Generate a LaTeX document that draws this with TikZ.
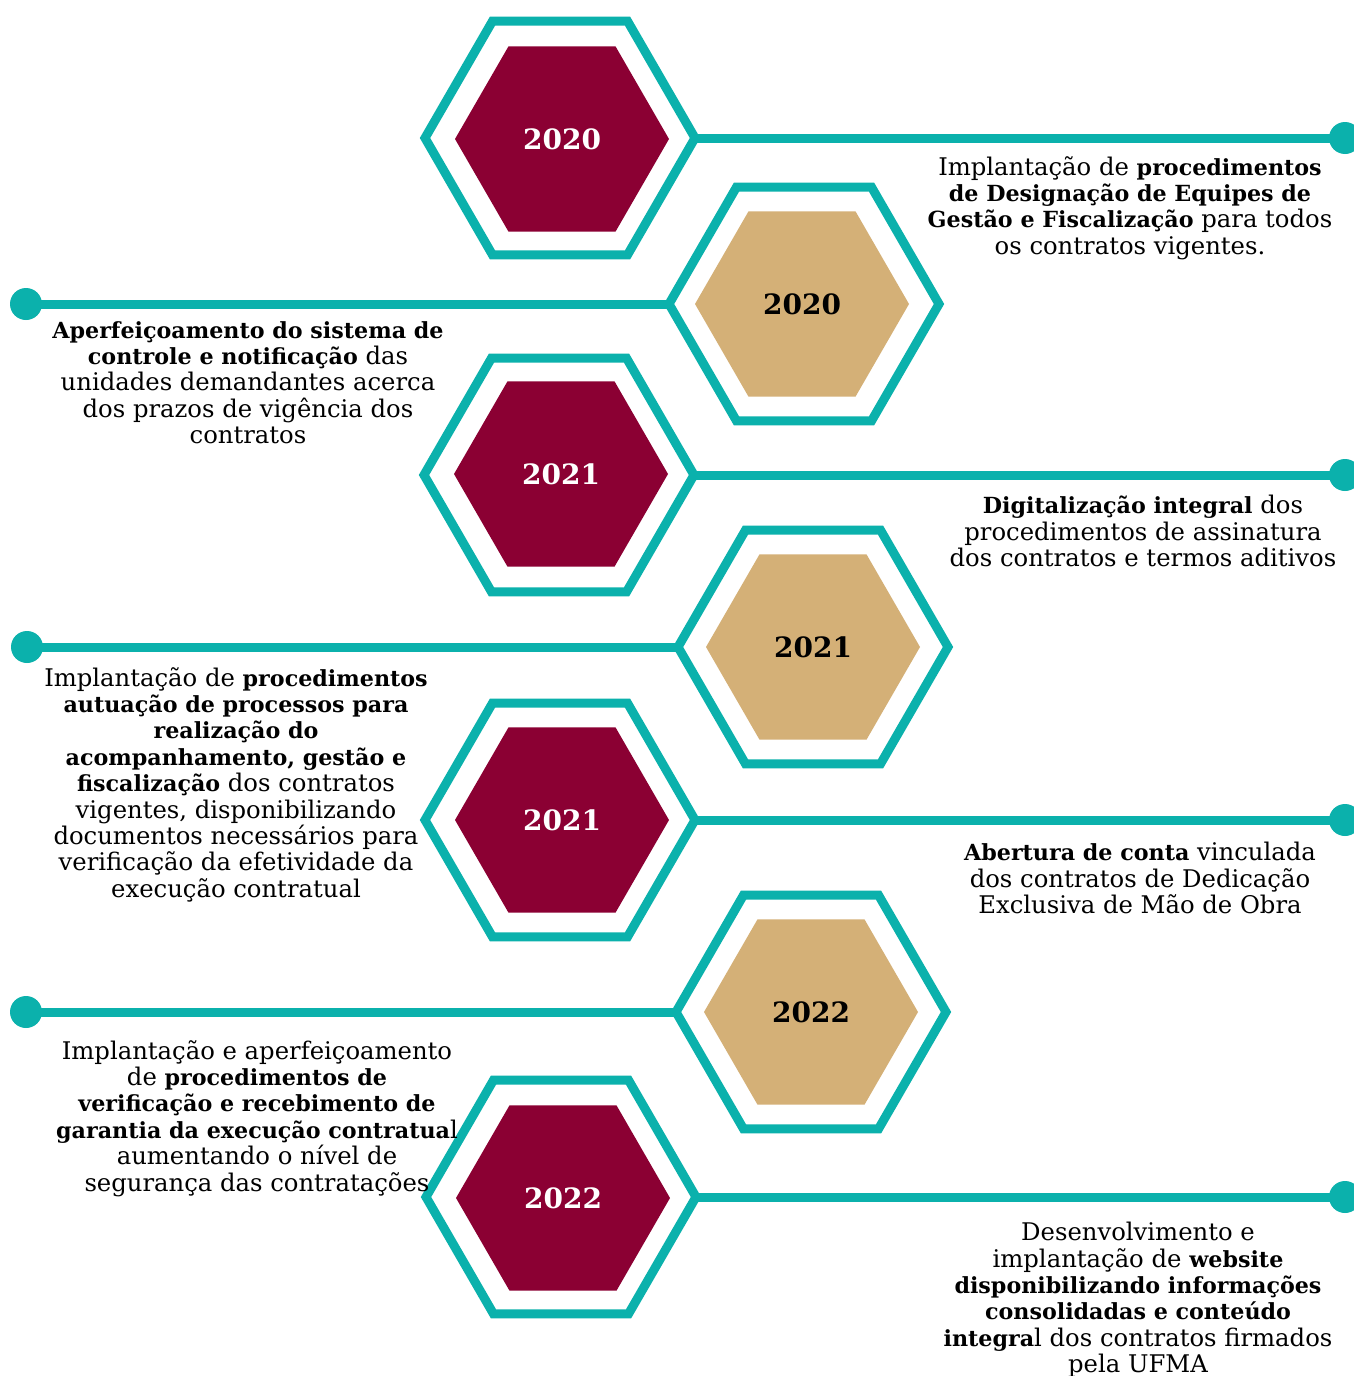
\documentclass[tikz,border=0pt]{standalone}
\usepackage{fontspec}
\setmainfont{DejaVu Serif}[BoldFeatures={Scale=0.914}]
\newfontfamily\yearfont{DejaVu Serif Bold}
\usetikzlibrary{shapes.geometric}
\definecolor{tealc}{HTML}{0BB1AC}
\definecolor{maroonc}{HTML}{8B0033}
\definecolor{goldc}{HTML}{D4B077}
\begin{document}
\begin{tikzpicture}[x=1pt,y=-1pt,
 outerhex/.style={regular polygon, regular polygon sides=6, draw=tealc, line width=9pt, minimum size=270pt, inner sep=0pt, outer sep=0pt},
 innerhex/.style={regular polygon, regular polygon sides=6, minimum size=214pt, inner sep=0pt, outer sep=0pt, font=\yearfont\fontsize{28}{30}\selectfont},
 maroonhex/.style={innerhex, fill=maroonc, text=white},
 goldhex/.style={innerhex, fill=goldc, text=black},
 conn/.style={draw=tealc, line width=9pt},
 dot/.style={circle, fill=tealc, minimum size=32pt, inner sep=0pt, outer sep=0pt},
 desc/.style={align=center, anchor=north, inner sep=0pt, font=\fontsize{24.3}{26.4}\selectfont}
]
\useasboundingbox (0,0) rectangle (1354,1376);
\clip (0,0) rectangle (1354,1376);
\fill[white] (0,0) rectangle (1354,1376);

% dots
\node[dot] (d1) at (1345,138) {};
\node[dot] (d2) at (26,304) {};
\node[dot] (d3) at (1345,475) {};
\node[dot] (d4) at (27,647) {};
\node[dot] (d5) at (1345,820) {};
\node[dot] (d6) at (26,1012) {};
\node[dot] (d7) at (1345,1197) {};

% hexagons
\node[outerhex] (h1o) at (560,138) {};
\node[maroonhex] (h1) at (562,139) {2020};
\node[outerhex] (h2o) at (804,304) {};
\node[goldhex] (h2) at (802,304) {2020};
\node[outerhex] (h3o) at (559,475) {};
\node[maroonhex] (h3) at (561,474) {2021};
\node[outerhex] (h4o) at (813,647) {};
\node[goldhex] (h4) at (813,647) {2021};
\node[outerhex] (h5o) at (560,820) {};
\node[maroonhex] (h5) at (562,820) {2021};
\node[outerhex] (h6o) at (811,1012) {};
\node[goldhex] (h6) at (811,1012) {2022};
\node[outerhex] (h7o) at (561,1197) {};
\node[maroonhex] (h7) at (563,1198) {2022};

% connectors
\draw[conn] (h1o.east) -- (d1.center);
\draw[conn] (d2.center) -- (h2o.west);
\draw[conn] (h3o.east) -- (d3.center);
\draw[conn] (d4.center) -- (h4o.west);
\draw[conn] (h5o.east) -- (d5.center);
\draw[conn] (d6.center) -- (h6o.west);
\draw[conn] (h7o.east) -- (d7.center);

% descriptions
\node[desc] (t1) at (1130,156) {Implantação de \textbf{procedimentos}\\\textbf{de Designação de Equipes de}\\\textbf{Gestão e Fiscalização} para todos\\os contratos vigentes.};
\node[desc] (t2) at (248,321) {\textbf{Aperfeiçoamento do sistema de}\\\textbf{controle e notificação} das\\unidades demandantes acerca\\dos prazos de vigência dos\\contratos};
\node[desc] (t3) at (1143,495) {\textbf{Digitalização integral} dos\\procedimentos de assinatura\\dos contratos e termos aditivos};
\node[desc] (t4) at (236,667) {Implantação de \textbf{procedimentos}\\\textbf{autuação de processos para}\\\textbf{realização do}\\\textbf{acompanhamento, gestão e}\\\textbf{fiscalização} dos contratos\\vigentes, disponibilizando\\documentos necessários para\\verificação da efetividade da\\execução contratual};
\node[desc] (t5) at (1140,842) {\textbf{Abertura de conta} vinculada\\dos contratos de Dedicação\\Exclusiva de Mão de Obra};
\node[desc] (t6) at (257,1040) {Implantação e aperfeiçoamento\\de \textbf{procedimentos de}\\\textbf{verificação e recebimento de}\\\textbf{garantia da execução contratua}l\\aumentando o nível de\\segurança das contratações};
\node[desc] (t7) at (1138,1222) {Desenvolvimento e\\implantação de \textbf{website}\\\textbf{disponibilizando informações}\\\textbf{consolidadas e conteúdo}\\\textbf{integra}l dos contratos firmados\\pela UFMA};
\end{tikzpicture}
\end{document}
